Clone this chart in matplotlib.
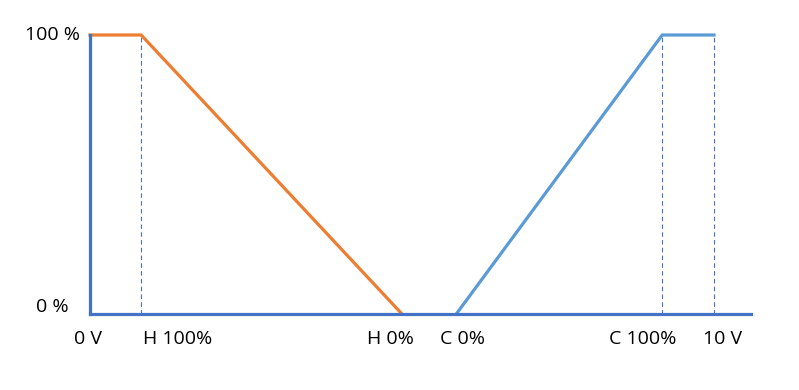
import matplotlib.pyplot as plt

# control signal (V) vs. output (%)
heat_x = [0.0, 0.82, 5.0]
heat_y = [100, 100, 0]
cool_x = [5.87, 9.17, 10.0]
cool_y = [0, 100, 100]
guide_x = [0.82, 9.17, 10.0]

xlabels = ['0 V', 'H 100%', 'H 0%', 'C 0%', 'C 100%', '10 V']
xlabel_pos = [-0.03, 1.41, 4.82, 5.97, 8.86, 10.14]

axis_col = '#4472C4'
plt.rcParams['font.family'] = ['Open Sans', 'DejaVu Sans']

fig = plt.figure(figsize=(7.99, 3.9), dpi=100)
ax = fig.add_axes([90 / 799, 76 / 390, 661 / 799, 279 / 390])
ax.set_xlim(0, 661 / 62.4)
ax.set_ylim(0, 100)

for gx in guide_x:
    ax.plot([gx, gx], [0, 100], color=axis_col, lw=0.8, ls=(0, (4, 3)), zorder=1)

ax.plot(heat_x, heat_y, color='#ED7D31', lw=2.3, solid_joinstyle='miter', clip_on=False, zorder=3)
ax.plot(cool_x, cool_y, color='#5B9BD5', lw=2.3, solid_joinstyle='miter', clip_on=False, zorder=3)

for s in ['top', 'right']:
    ax.spines[s].set_visible(False)
for s in ['left', 'bottom']:
    ax.spines[s].set_color(axis_col)
    ax.spines[s].set_linewidth(2.3)
    ax.spines[s].set_zorder(4)
ax.set_xticks([])
ax.set_yticks([])

for lab, xp in zip(xlabels, xlabel_pos):
    ax.text(xp, -9, lab, ha='center', va='center', fontsize=14)
ax.text(-0.16, 100, '100 %', ha='right', va='center', fontsize=14)
ax.text(-0.35, 2.5, '0 %', ha='right', va='center', fontsize=14)

fig.savefig('out.png', dpi=100)
